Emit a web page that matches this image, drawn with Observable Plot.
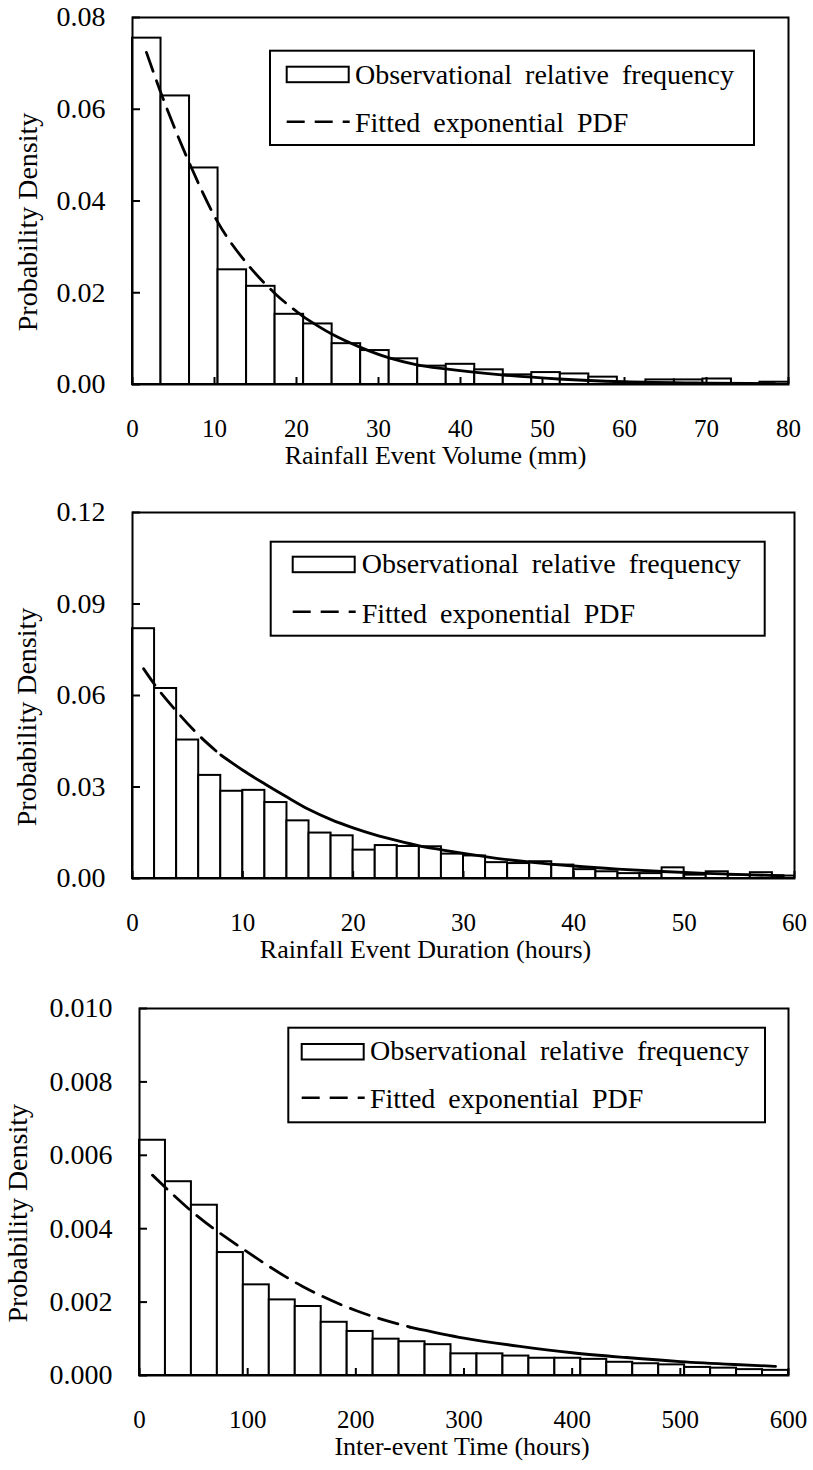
<!DOCTYPE html>
<html><head><meta charset="utf-8">
<script src="https://cdn.jsdelivr.net/npm/d3@7"></script>
<script src="https://cdn.jsdelivr.net/npm/@observablehq/plot@0.6"></script>
<style>
body{margin:0;background:#fff;}
#wrap{position:relative;width:813px;height:1470px;background:#fff;}
svg, svg text{font-family:"Liberation Serif","Times New Roman",serif !important;}
</style></head><body><div id="wrap"></div>
<script>
// ---------- Panel 1: Rainfall event volume ----------
const volumeRange = [0, 80];
const volumeBinCount = 23;
const volumeFreq = [0.0755, 0.0629, 0.0472, 0.0250, 0.0214, 0.0153, 0.0132, 0.0089, 0.0074, 0.0056,
  0.0040, 0.0044, 0.0032, 0.0021, 0.0026, 0.0023, 0.0016, 0.0004, 0.0010, 0.0010, 0.0012, 0.0001, 0.0005];
const volumeCurveX = [1.7, 3.5, 5, 7, 10.4, 13.8, 17.4, 20.9, 24.3, 27.8, 31.3, 34.7, 38.2, 45, 52, 60, 70, 78.3];
const volumeCurveY = [0.0724, 0.0634, 0.0565, 0.0480, 0.0354, 0.0267, 0.0198, 0.0147, 0.0110, 0.0081, 0.0058, 0.0043, 0.0034, 0.0021, 0.0012, 0.0006, 0.0003, 0.0002];
const volumeDashedUntil = 20.9;
const volumeXTicks = [0, 10, 20, 30, 40, 50, 60, 70, 80];
const volumeYTicks = [0, 0.02, 0.04, 0.06, 0.08];

// ---------- Panel 2: Rainfall event duration ----------
const durationRange = [0, 60];
const durationBinCount = 30;
const durationFreq = [0.0819, 0.0623, 0.0454, 0.0338, 0.0286, 0.0289, 0.0249, 0.0189, 0.0149, 0.0140,
  0.0093, 0.0108, 0.0105, 0.0104, 0.0080, 0.0074, 0.0052, 0.0049, 0.0055, 0.0044,
  0.0029, 0.0022, 0.0016, 0.0016, 0.0035, 0.0011, 0.0022, 0.0011, 0.0019, 0.0008];
const durationCurveX = [1, 2, 4, 6, 8, 10, 12, 14, 16, 18, 20, 22, 24, 26, 28, 30, 33, 36, 40, 44, 48, 52, 56, 59];
const durationCurveY = [0.0688, 0.0636, 0.0548, 0.0470, 0.0405, 0.0355, 0.0310, 0.0267, 0.0226, 0.0193, 0.0166, 0.0143, 0.0124, 0.0107, 0.0094, 0.0082, 0.0066, 0.0054, 0.0041, 0.0031, 0.0023, 0.0017, 0.0012, 0.0009];
const durationDashedUntil = 8;
const durationXTicks = [0, 10, 20, 30, 40, 50, 60];
const durationYTicks = [0, 0.03, 0.06, 0.09, 0.12];

// ---------- Panel 3: Inter-event time ----------
const interRange = [0, 600];
const interBinCount = 25;
const interFreq = [0.00641, 0.00528, 0.00464, 0.00335, 0.00247, 0.00206, 0.00188, 0.00145, 0.00120, 0.00099,
  0.00092, 0.00084, 0.00059, 0.00059, 0.00053, 0.00047, 0.00047, 0.00044, 0.00036, 0.00032,
  0.00029, 0.00022, 0.00020, 0.00016, 0.00014];
const interCurveX = [12, 50, 100, 150, 200, 250, 300, 350, 400, 450, 500, 550, 588];
const interCurveY = [0.00546, 0.00443, 0.00336, 0.00244, 0.00177, 0.00132, 0.00102, 0.00080, 0.00062, 0.00049, 0.00038, 0.00030, 0.00025];
const interDashedUntil = 250;
const interXTicks = [0, 100, 200, 300, 400, 500, 600];
const interYTicks = [0, 0.002, 0.004, 0.006, 0.008, 0.010];

const yTitle = "Probability Density";
const legendLabels = ["Observational relative frequency", "Fitted exponential PDF"];
const FONT = "Liberation Serif, Times New Roman, serif";

function bins(range, count, values) {
  const w = (range[1] - range[0]) / count;
  return values.map((v, i) => ({x1: range[0] + i * w, x2: range[0] + (i + 1) * w, v}));
}
function curve(xs, ys) { return xs.map((x, i) => ({x, y: ys[i]})); }

const panels = [
  {range: volumeRange, yDomain: [0, 0.08], bins: bins(volumeRange, volumeBinCount, volumeFreq),
   curve: curve(volumeCurveX, volumeCurveY), split: volumeDashedUntil,
   xTicks: volumeXTicks, yTicks: volumeYTicks, yFmt: ".2f", xTitle: "Rainfall Event Volume (mm)",
   m: {top: 17, bottom: 106, left: 132, right: 25}, xTitleDx: -25, yTitleDx: -104, yTitleDy: 21,
   legend: {x: 270, y: 50.7, w: 484, h: 94.3, sx: 16.7, sy: 16, tx: 85, b1: 33.3, b2: 81, dy: 71}},
  {range: durationRange, yDomain: [0, 0.12], bins: bins(durationRange, durationBinCount, durationFreq),
   curve: curve(durationCurveX, durationCurveY), split: durationDashedUntil,
   xTicks: durationXTicks, yTicks: durationYTicks, yFmt: ".2f", xTitle: "Rainfall Event Duration (hours)",
   m: {top: 22, bottom: 102, left: 132, right: 19}, xTitleDx: -38, yTitleDx: -105, yTitleDy: 21.5,
   legend: {x: 270.7, y: 541.7, w: 494, h: 94, sx: 22, sy: 15, tx: 91, b1: 31.6, b2: 81.6, dy: 70}},
  {range: interRange, yDomain: [0, 0.01], bins: bins(interRange, interBinCount, interFreq),
   curve: curve(interCurveX, interCurveY), split: interDashedUntil,
   xTicks: interXTicks, yTicks: interYTicks, yFmt: ".3f", xTitle: "Inter-event Time (hours)",
   m: {top: 28, bottom: 95, left: 139, right: 25}, xTitleDx: -2, yTitleDx: -121, yTitleDy: 21.3,
   legend: {x: 288.3, y: 1027.7, w: 476.7, h: 94.6, sx: 13.4, sy: 16.3, tx: 81.7, b1: 32.3, b2: 80.6, dy: 70}}
];

const wrap = document.getElementById("wrap");
const W = 813, H = 490;

panels.forEach((p, i) => {
  const innerW = W - p.m.left - p.m.right;
  const innerH = H - p.m.top - p.m.bottom;
  const dashed = p.curve.filter(d => d.x <= p.split);
  const solid = p.curve.filter(d => d.x >= p.split);
  const svg = Plot.plot({
    width: W, height: H,
    marginTop: p.m.top, marginBottom: p.m.bottom, marginLeft: p.m.left, marginRight: p.m.right,
    style: {fontFamily: FONT, fontSize: "28px", background: "white", color: "black", overflow: "visible"},
    x: {domain: p.range, label: null},
    y: {domain: p.yDomain, label: null},
    marks: [
      Plot.rect(p.bins, {x1: "x1", x2: "x2", y1: 0, y2: "v", fill: "white", stroke: "black", strokeWidth: 2}),
      Plot.line(dashed, {x: "x", y: "y", stroke: "black", strokeWidth: 2.8, strokeDasharray: "20,10", curve: "monotone-x"}),
      Plot.line(solid, {x: "x", y: "y", stroke: "black", strokeWidth: 2.8, curve: "monotone-x"}),
      Plot.tickY(p.yTicks, {y: d => d, stroke: "black", strokeWidth: 2, insetRight: innerW - 8}),
      Plot.tickX(p.xTicks, {x: d => d, stroke: "black", strokeWidth: 2, insetTop: innerH - 7}),
      Plot.axisY(p.yTicks, {tickSize: 0, tickPadding: 27, tickFormat: d3.format(p.yFmt), fontSize: 28, fontFamily: FONT, fontVariant: "normal", label: null}),
      Plot.axisX(p.xTicks, {tickSize: 0, tickPadding: 35, tickFormat: d3.format("d"), fontSize: 25, fontFamily: FONT, fontVariant: "normal", label: null}),
      Plot.frame({stroke: "black", strokeWidth: 2}),
      Plot.text([p.xTitle], {frameAnchor: "bottom", text: d => d, dy: 70.7, dx: p.xTitleDx, fontSize: 26, fontFamily: FONT, lineAnchor: "middle", textAnchor: "middle", fill: "black"}),
      Plot.text([yTitle], {frameAnchor: "left", text: d => d, rotate: -90, dx: p.yTitleDx, dy: p.yTitleDy, fontSize: 28, fontFamily: FONT, lineAnchor: "middle", textAnchor: "middle", fill: "black"})
    ]
  });
  svg.style.position = "absolute";
  svg.style.left = "0px";
  svg.style.top = (i * H) + "px";
  wrap.append(svg);
});

// Legend overlay (boxes inside each plot, as in the original)
const ns = "http://www.w3.org/2000/svg";
const ov = document.createElementNS(ns, "svg");
ov.setAttribute("width", W); ov.setAttribute("height", 1470);
ov.style.position = "absolute"; ov.style.left = "0px"; ov.style.top = "0px";
function el(tag, attrs, parent) {
  const e = document.createElementNS(ns, tag);
  for (const k in attrs) e.setAttribute(k, attrs[k]);
  parent.append(e); return e;
}
panels.forEach(p => {
  const L = p.legend;
  const g = el("g", {transform: `translate(${L.x},${L.y})`}, ov);
  el("rect", {x: 0, y: 0, width: L.w, height: L.h, fill: "white", stroke: "black", "stroke-width": 2}, g);
  el("rect", {x: L.sx, y: L.sy, width: 62, height: 15.5, fill: "white", stroke: "black", "stroke-width": 2}, g);
  el("line", {x1: L.sx, x2: L.sx + 63, y1: L.dy, y2: L.dy, stroke: "black", "stroke-width": 2.6, "stroke-dasharray": "18,10"}, g);
  const t1 = el("text", {x: L.tx, y: L.b1, "font-size": 28, "word-spacing": 6, fill: "black", "font-family": FONT}, g);
  t1.textContent = legendLabels[0];
  const t2 = el("text", {x: L.tx, y: L.b2, "font-size": 28, "word-spacing": 6, fill: "black", "font-family": FONT}, g);
  t2.textContent = legendLabels[1];
});
wrap.append(ov);
</script></body></html>
